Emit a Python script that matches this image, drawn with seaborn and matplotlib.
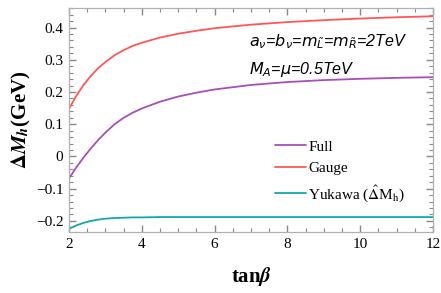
import matplotlib
matplotlib.use("Agg")
import matplotlib.pyplot as plt
import seaborn as sns
import pandas as pd
from matplotlib.ticker import MultipleLocator

# values
tanb = [2.0, 2.2, 2.4, 2.6, 2.8, 3.0, 3.25, 3.5, 3.75, 4.0, 4.5, 5.0, 5.5, 6.0, 7.0, 8.0, 9.0, 10.0, 11.0, 12.0]
gauge = [0.148, 0.188, 0.222, 0.250, 0.274, 0.293, 0.314, 0.330, 0.343, 0.353, 0.369, 0.381, 0.390, 0.398,
         0.409, 0.417, 0.423, 0.428, 0.432, 0.435]
full = [-0.068, -0.034, -0.003, 0.025, 0.051, 0.074, 0.100, 0.120, 0.136, 0.149, 0.170, 0.186, 0.198, 0.208,
        0.222, 0.231, 0.237, 0.241, 0.244, 0.246]
yukawa = [-0.224, -0.214, -0.206, -0.200, -0.196, -0.193, -0.191, -0.190, -0.189, -0.189, -0.188, -0.188,
          -0.188, -0.188, -0.188, -0.188, -0.188, -0.188, -0.188, -0.188]

series_names = ["Full", "Gauge", "Yukawa ($\\hat{\\Delta}$M$_\\mathrm{h}$)"]
colors = ["#a650b6", "#ff5757", "#12a8a8"]

rows = []
for name, vals in zip(series_names, [full, gauge, yukawa]):
    for x, y in zip(tanb, vals):
        rows.append({"tanb": x, "dM": y, "curve": name})
df = pd.DataFrame(rows)

sns.set_style("ticks", {"xtick.direction": "in", "ytick.direction": "in",
                        "xtick.top": True, "ytick.right": True})
plt.rcParams["font.family"] = ["Liberation Serif", "DejaVu Serif"]
plt.rcParams["mathtext.fontset"] = "stix"
plt.rcParams["text.color"] = "black"
plt.rcParams["axes.labelcolor"] = "black"

fig = plt.figure(figsize=(4.41, 2.93), dpi=100)
ax = fig.add_axes([0.1565, 0.208, 0.8255, 0.765])
sns.lineplot(data=df, x="tanb", y="dM", hue="curve", hue_order=series_names,
             palette=colors, linewidth=1.3, ax=ax)

ax.set_xlim(2, 12)
ax.set_ylim(-0.2345, 0.461)
ax.xaxis.set_major_locator(MultipleLocator(2))
ax.xaxis.set_minor_locator(MultipleLocator(0.5))
ax.yaxis.set_minor_locator(MultipleLocator(0.02))
ax.set_yticks([-0.2, -0.1, 0, 0.1, 0.2, 0.3, 0.4])
ax.set_yticklabels(["\u22120.2", "\u22120.1", "0", "0.1", "0.2", "0.3", "0.4"])
ax.tick_params(which="both", direction="in", bottom=True, left=True, top=True, right=True,
               color="#888888", labelcolor="black", labelsize=11, pad=4)
ax.tick_params(which="major", length=5, width=1.0)
ax.tick_params(which="minor", length=3, width=0.8)
for s in ax.spines.values():
    s.set_visible(True)
    s.set_color("#b0b0b0")
    s.set_linewidth(0.9)

ax.set_xlabel("tan$\\boldsymbol{\\beta}$", fontsize=15, fontweight="bold", labelpad=10)
ax.set_ylabel("$\\mathbf{\\Delta}\\mathbfit{M}_\\mathbfit{h}$(GeV)", fontsize=15, fontweight="bold",
              labelpad=2)

ax.text(0.494, 0.85, "$a_\\nu$=$b_\\nu$=$m_{\\tilde{L}}$=$m_{\\tilde{R}}$=2TeV",
        transform=ax.transAxes, fontsize=11.5, family=["Liberation Sans"], va="center",
        style="italic", math_fontfamily="dejavusans")
ax.text(0.494, 0.723, "$M_A$=$\\mu$=0.5TeV", transform=ax.transAxes, fontsize=11.5,
        va="center", family=["Liberation Sans"], style="italic", math_fontfamily="dejavusans")

leg = ax.legend(loc="lower left", bbox_to_anchor=(0.55, 0.1), frameon=False,
                fontsize=11, handlelength=2.0, handletextpad=0.15, labelspacing=0.5,
                borderaxespad=0)
fig.savefig("out.png", dpi=100)
